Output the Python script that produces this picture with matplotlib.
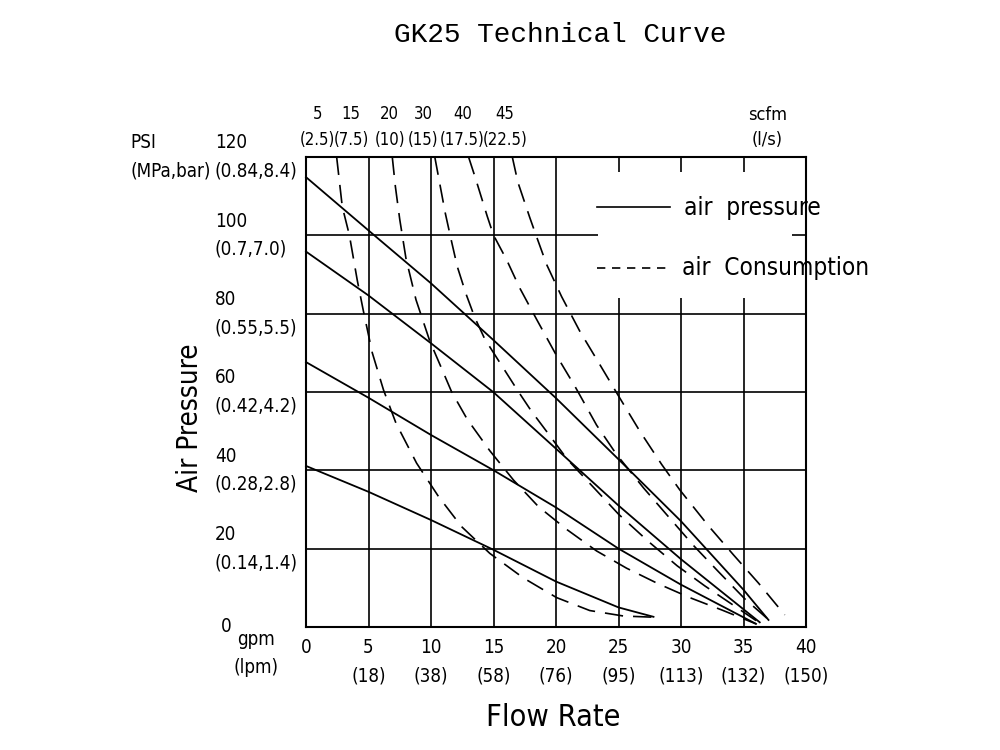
import matplotlib
matplotlib.use("Agg")
import matplotlib.pyplot as plt
from matplotlib.patches import Rectangle
import matplotlib.transforms as mtransforms

plt.rcParams['font.family'] = ['DejaVu Sans']
plt.rcParams['font.stretch'] = 'condensed'

# flow rate ticks (gpm) and lpm equivalents
gpm_ticks = [0, 5, 10, 15, 20, 25, 30, 35, 40]
lpm_labels = ['', '18', '38', '58', '76', '95', '113', '132', '150']

# pressure ticks (PSI) and (MPa,bar) equivalents
psi_ticks = [0, 20, 40, 60, 80, 100, 120]
metric_labels = ['', '0.14,1.4', '0.28,2.8', '0.42,4.2', '0.55,5.5', '0.7,7.0', '0.84,8.4']

# air consumption labels along the top
scfm_labels = ['5', '15', '20', '30', '40', '45']
ls_labels = ['2.5', '7.5', '10', '15', '17.5', '22.5']
scfm_label_x = [0.95, 3.6, 6.7, 9.35, 12.5, 15.9]

# air pressure curves (solid): flow gpm, head PSI
p1_x = [0, 5, 10, 15, 20, 25, 30, 35, 37]
p1_y = [114.8, 101.2, 87.7, 73.2, 58.4, 42.8, 27.0, 9.5, 1.8]
p2_x = [0, 5, 10, 15, 20, 25, 30, 36.3]
p2_y = [95.8, 84.6, 72.4, 59.9, 45.5, 31.0, 17.3, 1.2]
p3_x = [0, 5, 10, 15, 20, 25, 30, 36]
p3_y = [67.6, 58.5, 49.0, 40.0, 30.5, 20.0, 10.8, 0.8]
p4_x = [0, 5, 10, 15, 20, 25, 27.8]
p4_y = [41.1, 34.5, 27.3, 19.7, 11.6, 5.0, 2.6]

# air consumption curves (dashed)
c1_x = [2.45, 2.9, 3.47, 4.1, 4.6, 5.3, 6.2, 7.2, 8.85, 10.6, 12.45, 14.7, 17.4, 20.05, 22.7, 25.4, 27.8]
c1_y = [120, 107.3, 100, 88.5, 80.5, 70.0, 60.5, 52.0, 41.8, 33.3, 25.6, 18.8, 12.5, 7.5, 4.2, 2.8, 2.5]
c2_x = [6.9, 7.15, 7.5, 8.0, 8.8, 9.9, 10.9, 11.65, 12.9, 14.7, 16.6, 18.6, 20.9, 23.25, 25.65, 28.2, 30.7, 33.3, 36.0]
c2_y = [120, 112.4, 104, 94, 83.5, 73.0, 65.6, 60, 53.0, 45.0, 37.5, 30.7, 24.8, 19.4, 15.0, 11.0, 7.5, 4.3, 0.8]
c3_x = [10.3, 10.65, 11.15, 11.6, 12.1, 12.8, 13.5, 14.3, 15.2, 16.0, 16.9, 18.05, 19.25, 20.9, 23.8, 25.0, 27.4, 29.7, 31.9, 36.3]
c3_y = [120, 114, 105.5, 99, 92.0, 85.0, 79.0, 73.5, 69.0, 65.0, 60.5, 55, 49.9, 42.8, 32.9, 28.8, 21.8, 15.6, 10.5, 1.0]
c4_x = [13.0, 13.55, 14.5, 15.0, 16.05, 17.1, 18.45, 20.0, 21.5, 23.25, 24.85, 27.0, 28.9, 31.0, 33.0, 35.1, 37.1]
c4_y = [120, 114.6, 104.8, 100, 93.7, 86.5, 78.5, 69.5, 61.5, 51.5, 44.0, 35.5, 28.5, 20.8, 14.1, 7.2, 1.6]
c5_x = [16.5, 16.95, 17.9, 18.4, 19.25, 20.45, 21.9, 23.5, 24.9, 26.7, 28.45, 29.9, 32.2, 34.2, 36.2, 38.3]
c5_y = [120, 113.5, 104.5, 100, 92.5, 84.3, 75.5, 67.0, 59.5, 50.0, 41.5, 35.0, 25.8, 18.4, 11.2, 3.1]

fig = plt.figure(figsize=(10, 7.5), dpi=100)
ax = fig.add_axes([0.306, 0.164, 0.5, 0.627])
ax.set_xlim(0, 40)
ax.set_ylim(0, 120)

ax.set_xticks(gpm_ticks)
ax.set_yticks(psi_ticks)
ax.grid(True, color='black', linewidth=1.2)
ax.set_axisbelow(True)
for s in ax.spines.values():
    s.set_linewidth(1.5)
ax.tick_params(length=0)

# x tick labels: gpm over (lpm)
xl = [str(g) if l == '' else '%d\n(%s)' % (g, l) for g, l in zip(gpm_ticks, lpm_labels)]
ax.set_xticklabels(xl, fontsize=13.5, linespacing=1.6)
ax.tick_params(axis='x', pad=8)
ax.set_yticklabels([])

# y tick labels: PSI over (MPa,bar)
ytr = mtransforms.blended_transform_factory(ax.transAxes, ax.transData)
for p, m in zip(psi_ticks, metric_labels):
    if m == '':
        ax.text(-0.17, p, str(p), transform=ytr, fontsize=13.5, ha='left', va='center')
    else:
        ax.text(-0.182, p, '%d\n(%s)' % (p, m), transform=ytr, fontsize=13.5,
                ha='left', va='center', linespacing=1.6)
ax.text(-0.352, 120, 'PSI\n(MPa,bar)', transform=ytr, fontsize=13.5, ha='left',
        va='center', linespacing=1.6)
ax.text(-0.1, -0.056, 'gpm\n(lpm)', transform=ax.transAxes, fontsize=13.5,
        ha='center', va='center', linespacing=1.6)

# top labels: scfm over (l/s)
xtr = mtransforms.blended_transform_factory(ax.transData, ax.transAxes)
for xp, s, l in zip(scfm_label_x, scfm_labels, ls_labels):
    ax.text(xp, 1.064, '%s\n(%s)' % (s, l), transform=xtr, fontsize=12,
            ha='center', va='center', linespacing=1.55)
ax.text(36.9, 1.062, 'scfm\n(l/s)', transform=xtr, fontsize=13,
        ha='center', va='center', linespacing=1.5)

# curves
for xs, ys in [(p1_x, p1_y), (p2_x, p2_y), (p3_x, p3_y), (p4_x, p4_y)]:
    ax.plot(xs, ys, color='black', linewidth=1.3, zorder=3, clip_on=False)
for xs, ys in [(c1_x, c1_y), (c2_x, c2_y), (c3_x, c3_y), (c4_x, c4_y), (c5_x, c5_y)]:
    ax.plot(xs, ys, color='black', linewidth=1.2, linestyle=(0, (11, 6)),
            zorder=3, clip_on=False)

# legend block that blanks out the grid
ax.add_patch(Rectangle((23.35, 84.0), 15.55, 32.2, facecolor='white',
                       edgecolor='none', zorder=1))
ax.plot([23.3, 29.1], [107.2, 107.2], color='black', linewidth=1.2, zorder=3)
ax.text(30.2, 107.0, 'air  pressure', fontsize=17.5, ha='left', va='center', zorder=4)
ax.plot([23.3, 29.3], [91.7, 91.7], color='black', linewidth=1.2,
        linestyle=(0, (5, 4)), zorder=3)
ax.text(30.1, 91.5, 'air  Consumption', fontsize=17.5, ha='left', va='center', zorder=4)

ax.text(-0.232, 0.445, 'Air Pressure', transform=ax.transAxes, rotation=90,
        fontsize=20, ha='center', va='center')
fig.text(0.553, 0.043, 'Flow Rate', fontsize=22, ha='center', va='center')
fig.text(0.56, 0.953, 'GK25 Technical Curve', fontsize=20, ha='center', va='center',
         family=['Liberation Mono', 'DejaVu Sans Mono'], stretch='normal')

fig.savefig('out.png', dpi=100)
